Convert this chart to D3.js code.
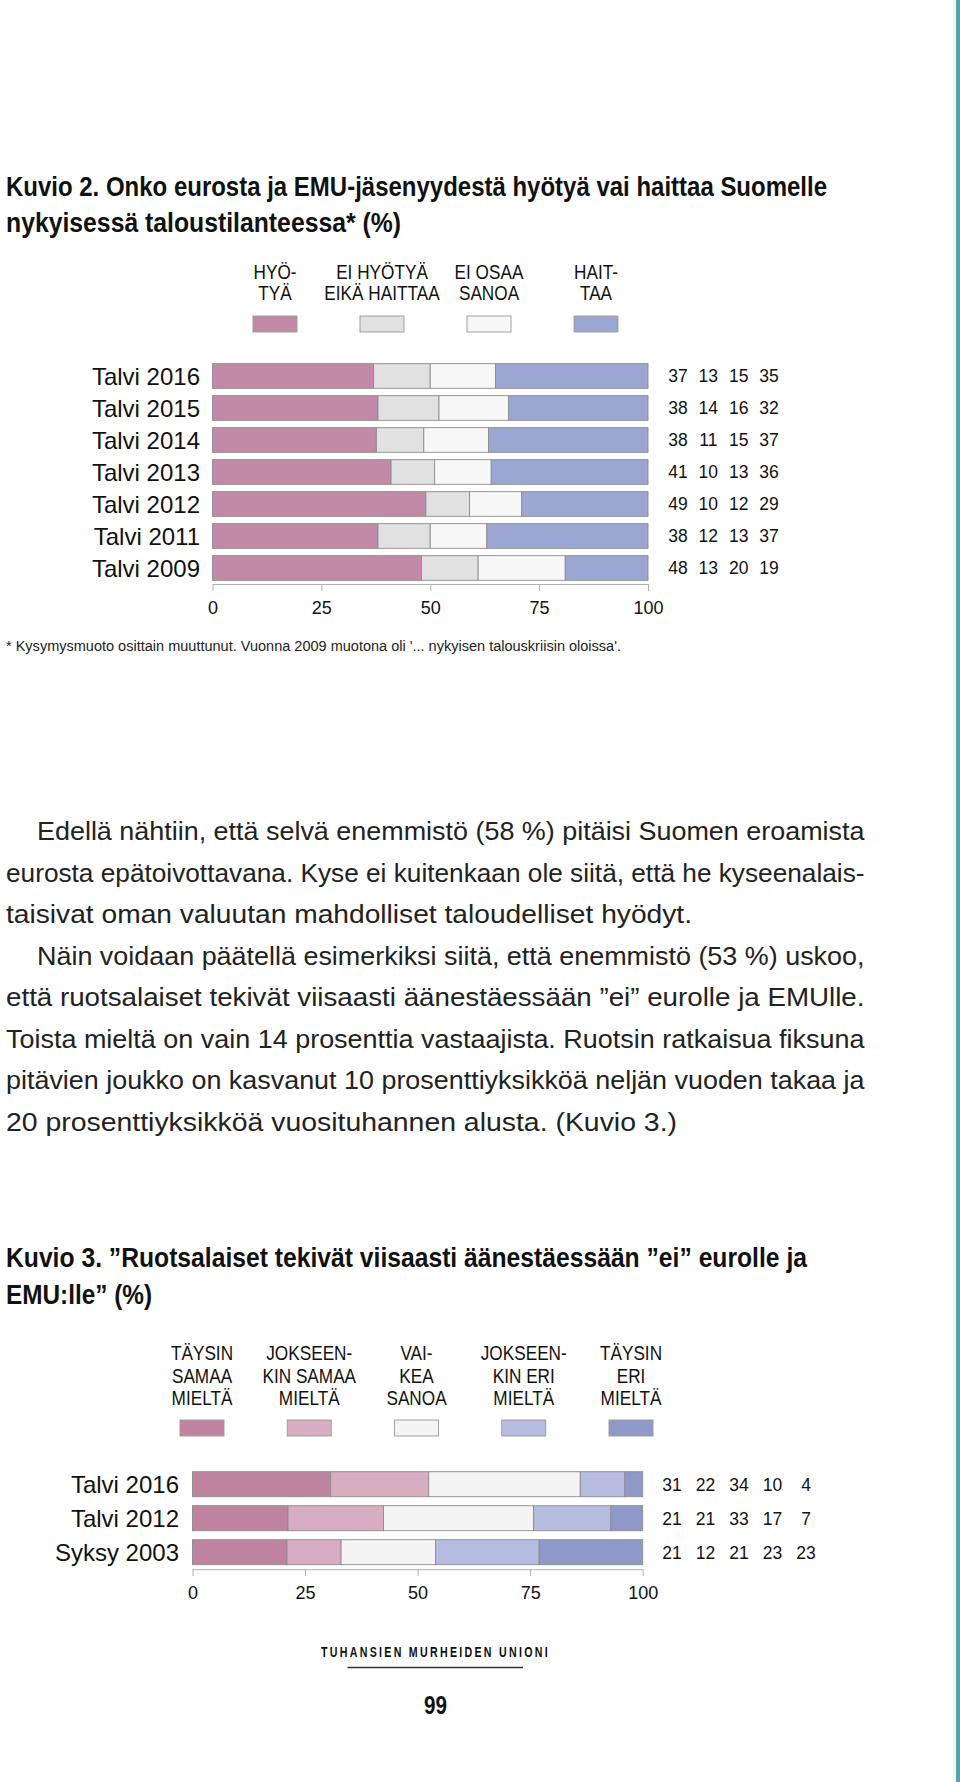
<!DOCTYPE html>
<html>
<head>
<meta charset="utf-8">
<script src="https://cdn.jsdelivr.net/npm/d3@7"></script>
<style>
  html, body { margin: 0; padding: 0; background: #ffffff; }
  svg { display: block; }
</style>
</head>
<body>
<svg id="page" width="960" height="1782"></svg>
<script>
// ---------------- DATA ----------------
// Kuvio 2
const k2Title = ["Kuvio 2. Onko eurosta ja EMU-jäsenyydestä hyötyä vai haittaa Suomelle",
                 "nykyisessä taloustilanteessa* (%)"];
const k2Categories = ["Talvi 2016", "Talvi 2015", "Talvi 2014", "Talvi 2013", "Talvi 2012", "Talvi 2011", "Talvi 2009"];
const k2SeriesLabels = [["HYÖ-", "TYÄ"], ["EI HYÖTYÄ", "EIKÄ HAITTAA"], ["EI OSAA", "SANOA"], ["HAIT-", "TAA"]];
const k2Hyotya   = [37, 38, 38, 41, 49, 38, 48];
const k2EiKumpi  = [13, 14, 11, 10, 10, 12, 13];
const k2EiOsaa   = [15, 16, 15, 13, 12, 13, 20];
const k2Haittaa  = [35, 32, 37, 36, 29, 37, 19];
const k2Colors   = ["#c28aa6", "#e1e1e1", "#f7f7f7", "#9ca6d2"];
const k2Footnote = "* Kysymysmuoto osittain muuttunut. Vuonna 2009 muotona oli '... nykyisen talouskriisin oloissa'.";

// Kuvio 3
const k3Title = ["Kuvio 3. \u201DRuotsalaiset tekivät viisaasti äänestäessään \u201Dei\u201D eurolle ja",
                 "EMU:lle\u201D (%)"];
const k3Categories = ["Talvi 2016", "Talvi 2012", "Syksy 2003"];
const k3SeriesLabels = [["TÄYSIN", "SAMAA", "MIELTÄ"], ["JOKSEEN-", "KIN SAMAA", "MIELTÄ"], ["VAI-", "KEA", "SANOA"],
                        ["JOKSEEN-", "KIN ERI", "MIELTÄ"], ["TÄYSIN", "ERI", "MIELTÄ"]];
const k3TaysinSamaa     = [31, 21, 21];
const k3JokseenkinSamaa = [22, 21, 12];
const k3Vaikea          = [34, 33, 21];
const k3JokseenkinEri   = [10, 17, 23];
const k3TaysinEri       = [4, 7, 23];
const k3Colors = ["#c0839f", "#d8adc1", "#f4f4f4", "#b5bcdf", "#8e99ca"];

const axisTicks = [0, 25, 50, 75, 100];

// Body text
const bodyLines = [
  "Edellä nähtiin, että selvä enemmistö (58 %) pitäisi Suomen eroamista",
  "eurosta epätoivottavana. Kyse ei kuitenkaan ole siitä, että he kyseenalais-",
  "taisivat oman valuutan mahdolliset taloudelliset hyödyt.",
  "Näin voidaan päätellä esimerkiksi siitä, että enemmistö (53 %) uskoo,",
  "että ruotsalaiset tekivät viisaasti äänestäessään \u201Dei\u201D eurolle ja EMUlle.",
  "Toista mieltä on vain 14 prosenttia vastaajista. Ruotsin ratkaisua fiksuna",
  "pitävien joukko on kasvanut 10 prosenttiyksikköä neljän vuoden takaa ja",
  "20 prosenttiyksikköä vuosituhannen alusta. (Kuvio 3.)"
];
const footerText = "TUHANSIEN MURHEIDEN UNIONI";
const pageNumber = "99";

// ---------------- LAYOUT (not data) ----------------
// start x and end x of each body line
const bodyLayout = [[37, 864.5], [6, 864.5], [6, 692], [37, 864.5], [6, 864.5], [6, 864.5], [6, 864.5], [6, 677]];

// ---------------- DRAWING ----------------
const svg = d3.select("#page");
const SANS = "'Liberation Sans', Arial, Helvetica, sans-serif";

svg.append("rect").attr("x", 0).attr("y", 0).attr("width", 960).attr("height", 1782).attr("fill", "#ffffff");
// right edge stripe
svg.append("rect").attr("x", 953).attr("y", 0).attr("width", 3).attr("height", 1782).attr("fill", "#eef6f6");
svg.append("rect").attr("x", 956).attr("y", 0).attr("width", 4).attr("height", 1782).attr("fill", "#58a3ab");

function fittedText(g, str, x, y, len, opts) {
  const t = g.append("text")
    .attr("x", x).attr("y", y)
    .attr("font-family", opts.family || SANS)
    .attr("font-size", opts.size)
    .attr("font-weight", opts.weight || "normal")
    .attr("fill", opts.fill || "#111")
    .text(str);
  if (opts.anchor) t.attr("text-anchor", opts.anchor);
  if (opts.spacing) t.attr("letter-spacing", opts.spacing);
  if (len) t.attr("textLength", len).attr("lengthAdjust", "spacingAndGlyphs");
  return t;
}

function condensedLabel(g, lines, cx, y0, lineH, size, sx) {
  lines.forEach((ln, i) => {
    g.append("text")
      .attr("transform", `translate(${cx},${y0 + i * lineH}) scale(${sx},1)`)
      .attr("text-anchor", "middle")
      .attr("font-family", SANS)
      .attr("font-size", size)
      .attr("fill", "#111")
      .text(ln);
  });
}

function drawStacked(cfg) {
  const g = svg.append("g");
  const rows = cfg.categories.map((c, i) => {
    const vals = cfg.series.map(s => s[i]);
    const total = d3.sum(vals);
    const row = {cat: c, raw: vals};
    vals.forEach((v, j) => row["s" + j] = v / total * 100);
    return row;
  });
  const keys = cfg.series.map((s, j) => "s" + j);
  const stack = d3.stack().keys(keys)(rows);

  const x = d3.scaleLinear().domain([0, 100]).range([cfg.x0, cfg.x1]);
  const y = d3.scaleBand().domain(cfg.categories).range([cfg.y0, cfg.y1])
    .paddingInner(cfg.padIn).paddingOuter(cfg.padIn / 2);

  // bars
  stack.forEach((layer, j) => {
    g.append("g").selectAll("rect").data(layer).join("rect")
      .attr("x", d => x(d[0]))
      .attr("y", d => y(d.data.cat))
      .attr("width", d => x(d[1]) - x(d[0]))
      .attr("height", y.bandwidth())
      .attr("fill", cfg.colors[j])
      .attr("stroke", "#8c8c8c")
      .attr("stroke-width", 0.9);
  });

  // category labels
  g.append("g").selectAll("text").data(cfg.categories).join("text")
    .attr("x", cfg.labelX)
    .attr("y", d => y(d) + y.bandwidth() / 2)
    .attr("dy", "0.36em")
    .attr("text-anchor", "end")
    .attr("font-family", SANS)
    .attr("font-size", cfg.labelSize)
    .attr("fill", "#111")
    .text(d => d);

  // numbers on right
  const nx = d3.scalePoint().domain(keys).range(cfg.numRange);
  rows.forEach(r => {
    g.append("g").selectAll("text").data(keys).join("text")
      .attr("x", k => nx(k))
      .attr("y", y(r.cat) + y.bandwidth() / 2)
      .attr("dy", "0.36em")
      .attr("text-anchor", "middle")
      .attr("font-family", SANS)
      .attr("font-size", 17.5)
      .attr("fill", "#111")
      .text((k, j) => r.raw[j]);
  });

  // axis
  const ax = g.append("g").attr("transform", `translate(0,${cfg.y1})`)
    .call(d3.axisBottom(x).tickValues(axisTicks).tickSize(7).tickSizeOuter(0).tickPadding(cfg.tickPad));
  ax.select(".domain").attr("stroke", "#b0b0b0").attr("stroke-width", 1);
  ax.selectAll(".tick line").attr("stroke", "#b0b0b0").attr("stroke-width", 1);
  ax.selectAll(".tick text").attr("font-family", SANS).attr("font-size", 18).attr("fill", "#111");

  // legend
  const lx = d3.scalePoint().domain(keys).range(cfg.legendRange);
  keys.forEach((k, j) => {
    condensedLabel(g, cfg.seriesLabels[j], lx(k), cfg.legendTextY, cfg.legendLineH, 20, 0.86);
    g.append("rect")
      .attr("x", lx(k) - 22).attr("y", cfg.swatchY)
      .attr("width", 44).attr("height", 16)
      .attr("fill", cfg.colors[j])
      .attr("stroke", "#9a9a9a").attr("stroke-width", 0.9);
  });
}

// ---- Kuvio 2 ----
fittedText(svg, k2Title[0], 6, 196, 821, {size: 27.5, weight: "bold"});
fittedText(svg, k2Title[1], 6, 232, 395, {size: 27.5, weight: "bold"});

drawStacked({
  categories: k2Categories,
  series: [k2Hyotya, k2EiKumpi, k2EiOsaa, k2Haittaa],
  seriesLabels: k2SeriesLabels,
  colors: k2Colors,
  x0: 212.5, x1: 648,
  y0: 360, y1: 584, padIn: 0.23,
  labelX: 200, labelSize: 24,
  numRange: [678, 769],
  tickPad: 10,
  legendRange: [275, 596],
  legendTextY: 279, legendLineH: 20.5,
  swatchY: 316
});

fittedText(svg, k2Footnote, 6, 651, 615, {size: 14, fill: "#222"});

// ---- Body text ----
(function () {
  const g = svg.append("g");
  bodyLines.forEach((t, i) => {
    const [xs, xe] = bodyLayout[i];
    fittedText(g, t, xs, 840 + i * 41.5, xe - xs, {size: 25.5, fill: "#222"});
  });
})();

// ---- Kuvio 3 ----
fittedText(svg, k3Title[0], 6, 1267, 801, {size: 27.5, weight: "bold"});
fittedText(svg, k3Title[1], 6, 1304, 146, {size: 27.5, weight: "bold"});

drawStacked({
  categories: k3Categories,
  series: [k3TaysinSamaa, k3JokseenkinSamaa, k3Vaikea, k3JokseenkinEri, k3TaysinEri],
  seriesLabels: k3SeriesLabels,
  colors: k3Colors,
  x0: 192.5, x1: 642.7,
  y0: 1467.2, y1: 1569.2, padIn: 0.265,
  labelX: 179, labelSize: 24,
  numRange: [672, 806],
  tickPad: 10,
  legendRange: [202, 631],
  legendTextY: 1360, legendLineH: 22.7,
  swatchY: 1420
});

// ---- Footer ----
fittedText(svg, footerText, 435.5, 1657, 229, {size: 14, weight: "bold", anchor: "middle", spacing: 3});
svg.append("line").attr("x1", 347.5).attr("x2", 523).attr("y1", 1667.5).attr("y2", 1667.5)
  .attr("stroke", "#333").attr("stroke-width", 1.5);
fittedText(svg, pageNumber, 435.5, 1714, 23, {size: 26, weight: "bold", anchor: "middle"});
</script>
</body>
</html>
